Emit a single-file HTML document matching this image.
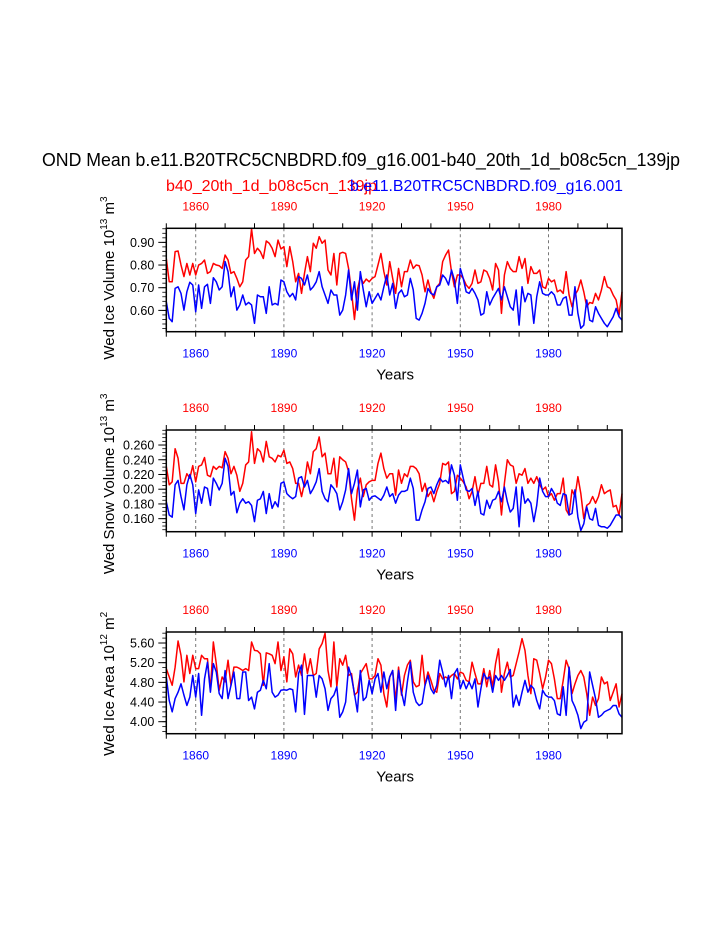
<!DOCTYPE html>
<html><head><meta charset="utf-8">
<style>
html,body{margin:0;padding:0;background:#fff;}
svg{display:block;font-family:"Liberation Sans",Arial,sans-serif;}
</style></head>
<body>
<svg id="chart" width="723" height="935" viewBox="0 0 723 935" xmlns="http://www.w3.org/2000/svg">
<text x="42" y="166" font-size="18" fill="#000" textLength="638" lengthAdjust="spacingAndGlyphs">OND Mean b.e11.B20TRC5CNBDRD.f09_g16.001-b40_20th_1d_b08c5cn_139jp</text>
<text x="166" y="191" font-size="15.5" fill="#f00" textLength="211" lengthAdjust="spacingAndGlyphs">b40_20th_1d_b08c5cn_139jp</text>
<text x="350" y="191" font-size="15.5" fill="#00f" textLength="273" lengthAdjust="spacingAndGlyphs">b.e11.B20TRC5CNBDRD.f09_g16.001</text>
</svg>
<script>
const years = Array.from({length:156},(_, i)=>1850+i);
const xTicks = [1860,1890,1920,1950,1980];

const iceVolRed = [.829,.726,.726,.859,.862,.80,.749,.807,.756,.807,.756,.80,.807,.822,.763,.771,.807,.80,.797,.785,.844,.822,.763,.771,.741,.704,.726,.822,.837,.959,.851,.874,.859,.829,.906,.896,.874,.837,.910,.871,.881,.793,.881,.815,.726,.763,.675,.763,.837,.771,.896,.874,.925,.896,.910,.778,.756,.851,.712,.851,.856,.851,.785,.682,.560,.690,.749,.719,.738,.726,.741,.749,.80,.851,.771,.712,.815,
.741,.675,.785,.704,.771,.771,.822,.785,.80,.797,.756,.682,.734,.682,.653,.704,.719,.815,.844,.866,.771,.704,.756,.756,.741,.712,.697,.719,.778,.719,.726,.778,.771,.741,.690,.807,.778,.587,.756,.815,.785,.771,.771,.837,.785,.829,.719,.793,.763,.763,.778,.704,.697,.741,.726,.734,.682,.690,.675,.771,.668,.616,.668,.690,.734,.682,.616,.635,.631,.675,.646,.690,.749,.704,.697,.668,.646,.579,.682];
const iceVolBlue = [.638,.565,.550,.697,.704,.675,.601,.682,.724,.712,.594,.712,.609,.704,.715,.631,.744,.726,.690,.704,.815,.771,.660,.704,.601,.624,.668,.624,.635,.624,.543,.668,.660,.660,.587,.704,.624,.631,.624,.734,.726,.682,.660,.675,.646,.749,.741,.712,.756,.690,.704,.726,.771,.704,.668,.631,.690,.668,.668,.579,.601,.668,.778,.646,.726,.601,.771,.690,.616,.682,.631,.653,.675,.646,.704,.756,.668,
.719,.609,.675,.690,.660,.668,.741,.690,.565,.557,.587,.631,.697,.675,.668,.704,.712,.756,.741,.712,.778,.734,.631,.785,.741,.682,.675,.697,.675,.646,.579,.587,.682,.624,.653,.675,.697,.646,.704,.660,.616,.601,.690,.535,.704,.638,.675,.668,.543,.660,.726,.675,.668,.668,.682,.668,.624,.624,.653,.660,.579,.579,.704,.587,.521,.535,.646,.557,.550,.616,.587,.565,.543,.528,.550,.572,.609,.572,.557];

const snowRed = [.231,.206,.210,.255,.242,.208,.208,.221,.215,.232,.210,.231,.233,.243,.219,.217,.231,.227,.231,.229,.251,.242,.221,.231,.219,.197,.208,.233,.237,.278,.235,.255,.251,.237,.265,.244,.242,.237,.246,.244,.253,.235,.237,.228,.208,.208,.190,.208,.237,.221,.251,.255,.271,.244,.249,.221,.221,.242,.203,.244,.240,.237,.224,.187,.158,.199,.215,.190,.206,.210,.212,.212,.235,.249,.228,.215,.221,
.221,.192,.226,.208,.221,.217,.231,.231,.228,.221,.197,.208,.190,.197,.183,.197,.208,.235,.233,.237,.194,.197,.219,.215,.210,.203,.187,.197,.217,.192,.208,.208,.231,.206,.203,.233,.210,.165,.208,.240,.233,.231,.208,.221,.219,.228,.208,.215,.208,.217,.206,.199,.203,.190,.194,.185,.194,.194,.215,.172,.165,.199,.190,.217,.194,.160,.178,.181,.190,.181,.190,.206,.194,.197,.199,.176,.178,.165,.194];
const snowBlue = [.183,.165,.162,.206,.212,.190,.172,.206,.220,.206,.167,.199,.181,.203,.201,.178,.215,.208,.199,.208,.242,.231,.192,.197,.168,.181,.187,.181,.183,.178,.156,.185,.187,.197,.167,.194,.174,.183,.176,.208,.210,.194,.190,.187,.190,.215,.217,.203,.212,.194,.201,.210,.228,.197,.187,.183,.206,.201,.194,.172,.183,.199,.228,.194,.208,.226,.176,.199,.201,.185,.190,.191,.188,.185,.192,.203,.190,
.194,.181,.192,.197,.197,.199,.215,.201,.158,.158,.172,.183,.201,.203,.194,.206,.215,.210,.212,.208,.233,.219,.185,.233,.215,.199,.197,.201,.178,.197,.167,.165,.185,.174,.185,.187,.197,.183,.203,.183,.169,.174,.203,.149,.203,.181,.187,.181,.156,.178,.215,.197,.190,.190,.201,.194,.181,.178,.194,.192,.165,.167,.199,.162,.144,.153,.176,.160,.158,.174,.151,.149,.149,.147,.151,.158,.165,.165,.160];

const areaRed = [5.08,4.91,4.74,5.11,5.64,5.35,4.81,5.35,4.98,5.35,5.08,5.08,5.35,5.28,5.28,4.64,5.62,5.18,4.64,4.91,4.81,5.25,4.74,5.11,5.11,5.08,5.04,5.08,5.04,5.62,5.45,5.44,5.38,4.74,5.40,5.38,5.35,5.18,5.62,5.04,5.32,4.81,5.48,5.38,4.91,5.15,4.94,5.38,4.98,5.28,4.94,4.98,5.48,5.59,5.80,5.04,4.71,5.62,4.71,5.28,5.15,5.35,4.94,4.98,4.54,4.60,4.98,5.08,5.18,4.87,4.87,4.94,5.28,5.15,4.57,4.30,4.91,
5.04,4.43,5.11,4.54,4.94,5.15,5.25,4.81,4.71,4.74,5.35,4.74,5.01,4.84,4.64,4.60,4.98,4.87,4.91,4.87,4.94,4.98,4.87,5.01,4.98,4.84,4.81,5.21,4.98,4.77,4.77,5.08,4.71,5.04,4.71,5.18,5.48,4.60,4.98,5.21,4.91,4.94,5.18,5.42,5.69,5.45,4.94,4.57,5.28,5.25,4.98,4.67,4.91,5.25,5.18,4.87,4.47,4.47,4.84,5.25,5.08,4.57,4.77,4.94,5.04,4.91,4.57,4.13,4.50,4.33,4.47,4.91,4.77,4.81,4.43,4.60,4.77,4.30,4.57];
const areaBlue = [4.91,4.43,4.20,4.47,4.60,4.77,4.54,4.33,4.50,4.94,4.50,4.98,4.13,4.87,5.21,4.60,5.18,5.01,4.57,4.47,5.04,4.47,4.74,5.01,4.47,4.47,5.01,5.01,4.43,4.50,4.26,4.60,4.64,4.84,4.67,5.18,4.60,4.50,4.54,4.64,4.65,4.64,4.67,4.65,4.20,4.98,5.15,4.15,4.94,4.94,4.94,4.50,4.94,4.87,4.67,4.23,4.47,4.54,4.71,4.09,4.20,4.40,5.11,4.91,4.57,4.20,5.04,4.43,4.50,4.84,4.57,4.87,4.98,4.60,5.01,4.67,4.91,
5.04,4.23,5.04,4.60,4.33,4.81,5.21,4.60,4.40,4.33,4.37,4.74,4.94,4.67,4.57,4.74,5.25,5.01,4.71,4.94,4.47,4.98,5.08,4.67,4.84,4.67,4.81,4.67,4.87,4.30,4.67,4.98,4.87,4.91,4.60,4.94,4.84,4.94,4.84,4.94,5.06,4.30,4.54,4.33,4.60,4.84,4.60,4.74,4.67,4.43,4.26,4.64,4.54,4.50,4.50,4.43,4.16,4.13,4.71,4.13,5.11,4.43,4.30,4.13,3.86,3.99,4.03,5.01,4.74,4.47,4.09,4.13,4.20,4.23,4.26,4.33,4.33,4.16,4.09];

const ticks1 = ["0.60","0.70","0.80","0.90"];
const ticks2 = ["0.160","0.180","0.200","0.220","0.240","0.260"];
const ticks3 = ["4.00","4.40","4.80","5.20","5.60"];

const NS="http://www.w3.org/2000/svg";
const svg=document.getElementById('chart');
function mk(tag,attrs,parent){const e=document.createElementNS(NS,tag);for(const k in attrs)e.setAttribute(k,attrs[k]);(parent||svg).appendChild(e);return e;}

const X0=166.3,X1=622,Y0=1850,Y1=2005;
function xs(yr){return X0+(yr-Y0)*(X1-X0)/(Y1-Y0);}

function panel(cfg){
  const g=mk('g',{});
  
  
  const ys=v=>cfg.top+(cfg.vmax-v)*(cfg.bot-cfg.top)/(cfg.vmax-cfg.vmin);
  xTicks.forEach(t=>{
    const l=mk('line',{x1:xs(t),x2:xs(t),y1:cfg.top,y2:cfg.bot,stroke:'#777','stroke-width':1,'stroke-dasharray':'3,3'},g);
    
    
  });
  for(let yr=1850;yr<=2000;yr+=10){
    const x=xs(yr);
    mk('line',{x1:x,x2:x,y1:cfg.top,y2:cfg.top-5,stroke:'#000','stroke-width':1},g);
    mk('line',{x1:x,x2:x,y1:cfg.bot,y2:cfg.bot+5,stroke:'#000','stroke-width':1},g);
  }
  xTicks.forEach(t=>{
    const a=mk('text',{x:xs(t),y:cfg.top-18,'font-size':12,fill:'#f00','text-anchor':'middle'},g);a.textContent=t;
    
    
    const b=mk('text',{x:xs(t),y:cfg.bot+26,'font-size':12,fill:'#00f','text-anchor':'middle'},g);b.textContent=t;
    
    
  });
  for(let v=cfg.minorStart; v<=cfg.vmax+1e-9; v+=cfg.minor){
    if(v<cfg.vmin-1e-9)continue;
    const y=ys(v);
    mk('line',{x1:X0,x2:X0-4,y1:y,y2:y,stroke:'#000','stroke-width':0.8},g);
  }
  cfg.ticks.forEach(t=>{
    const y=ys(parseFloat(t));
    mk('line',{x1:X0,x2:X0-8,y1:y,y2:y,stroke:'#000','stroke-width':1},g);
    const tx=mk('text',{x:X0-12,y:y+4.5,'font-size':12.5,fill:'#000','text-anchor':'end'},g);tx.textContent=t;
    
    
  });
  [[cfg.red,'#f00','red-series-line'],[cfg.blue,'#00f','blue-series-line']].forEach(([arr,col,nm])=>{
    const pts=arr.map((v,i)=>xs(years[i]).toFixed(2)+','+ys(v).toFixed(2)).join(' ');
    const p=mk('polyline',{points:pts,fill:'none',stroke:col,'stroke-width':1.5,'stroke-linejoin':'round'},g);
    
    
  });
  const box=mk('rect',{x:X0,y:cfg.top,width:X1-X0,height:cfg.bot-cfg.top,fill:'none',stroke:'#000','stroke-width':1.5},g);
  
  
  const xt=mk('text',{x:(X0+X1)/2+1,y:cfg.bot+48,'font-size':15,fill:'#000','text-anchor':'middle'},g);xt.textContent='Years';
  
  
  const cy=(cfg.top+cfg.bot)/2;
  const yt=mk('text',{x:0,y:0,'font-size':15,fill:'#000','text-anchor':'middle',transform:`translate(114,${cy+cfg.titleShift}) rotate(-90)`},g);
  yt.innerHTML=cfg.ytitle;
  
  
}

panel({name:'ice-volume-panel',top:228.3,bot:331.7,vmin:0.506,vmax:0.962,ticks:ticks1,minor:0.02,minorStart:0.52,red:iceVolRed,blue:iceVolBlue,titleShift:-2,
  ytitle:'Wed Ice Volume 10<tspan font-size="10" dy="-7">13</tspan><tspan dy="7"> m</tspan><tspan font-size="10" dy="-7">3</tspan>'});
panel({name:'snow-volume-panel',top:430,bot:531.7,vmin:0.1423,vmax:0.2804,ticks:ticks2,minor:0.005,minorStart:0.145,red:snowRed,blue:snowBlue,titleShift:3,
  ytitle:'Wed Snow Volume 10<tspan font-size="10" dy="-7">13</tspan><tspan dy="7"> m</tspan><tspan font-size="10" dy="-7">3</tspan>'});
panel({name:'ice-area-panel',top:632,bot:733.7,vmin:3.756,vmax:5.824,ticks:ticks3,minor:0.1,minorStart:3.8,red:areaRed,blue:areaBlue,titleShift:1,
  ytitle:'Wed Ice Area 10<tspan font-size="10" dy="-7">12</tspan><tspan dy="7"> m</tspan><tspan font-size="10" dy="-7">2</tspan>'});
</script>
</body></html>
